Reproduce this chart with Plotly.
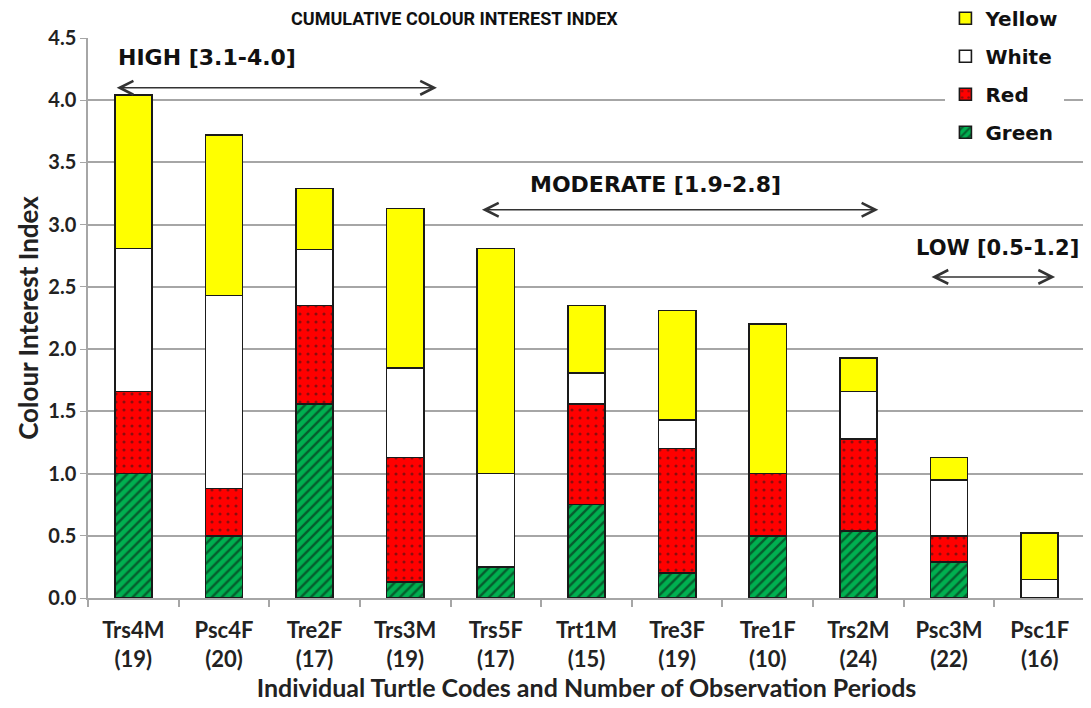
import plotly.graph_objects as go

codes = ["Trs4M", "Psc4F", "Tre2F", "Trs3M", "Trs5F", "Trt1M", "Tre3F", "Tre1F", "Trs2M", "Psc3M", "Psc1F"]
periods = [19, 20, 17, 19, 17, 15, 19, 10, 24, 22, 16]
green = [1.00, 0.50, 1.56, 0.13, 0.25, 0.75, 0.20, 0.50, 0.54, 0.29, 0.00]
red = [0.66, 0.38, 0.79, 1.00, 0.00, 0.81, 1.00, 0.50, 0.74, 0.21, 0.00]
white = [1.15, 1.55, 0.45, 0.72, 0.75, 0.25, 0.23, 0.00, 0.38, 0.45, 0.15]
yellow = [1.23, 1.29, 0.49, 1.28, 1.81, 0.54, 0.88, 1.20, 0.27, 0.18, 0.37]

tick_labels = [f"<b>{c}</b><br><b>({n})</b>" for c, n in zip(codes, periods)]
xpos = list(range(len(codes)))

fig = go.Figure()
line = dict(color="#1a1a1a", width=1.6)
fig.add_bar(x=xpos, y=green, name="<b>Green</b>", legendgroup="g", legendrank=4,
            marker=dict(color="#00B050", line=line,
                        pattern=dict(shape="/", fgcolor="#0a0a0a", bgcolor="#00B050", size=7, solidity=0.35)))
fig.add_bar(x=xpos, y=red, name="<b>Red</b>", legendgroup="r", legendrank=3,
            marker=dict(color="#FF0000", line=line,
                        pattern=dict(shape=".", fgcolor="#1a1a1a", bgcolor="#FF0000", size=8, solidity=0.12)))
fig.add_bar(x=xpos, y=white, name="<b>White</b>", legendgroup="w", legendrank=2,
            marker=dict(color="#FFFFFF", line=line))
fig.add_bar(x=xpos, y=yellow, name="<b>Yellow</b>", legendgroup="y", legendrank=1,
            marker=dict(color="#FFFF00", line=line))

fig.update_layout(
    barmode="stack",
    bargap=0.59,
    width=1083, height=700,
    margin=dict(l=80, r=6, t=30, b=110, autoexpand=False),
    paper_bgcolor="white", plot_bgcolor="white",
    font=dict(family="Lato", color="#1a1a1a"),
    showlegend=True,
    legend=dict(x=0.86, y=1.07, xanchor="left", yanchor="top",
                traceorder="grouped", tracegroupgap=9,
                bgcolor="white", font=dict(family="DejaVu Sans", size=20, color="#111"),
                itemwidth=30),
)

fig.update_xaxes(
    range=[-0.5, 10.5], tickvals=xpos, ticktext=tick_labels,
    ticks="", showgrid=False, showline=True, linecolor="#a6a6a6", linewidth=1.5,
    tickfont=dict(family="Lato", size=22, color="#222"), ticklabelstandoff=12,
    minor=dict(tickvals=[i - 0.5 for i in range(12)], ticks="outside", ticklen=7,
               tickcolor="#a6a6a6", tickwidth=1.5, showgrid=False),
    title=dict(text="<b>Individual Turtle Codes and Number of Observation Periods</b>",
               font=dict(family="Lato", size=25, color="#222"), standoff=4),
)
fig.update_yaxes(
    range=[0, 4.5], dtick=0.5, tickformat=".1f",
    showgrid=True, gridcolor="#a6a6a6", gridwidth=1.5,
    showline=True, linecolor="#a6a6a6", linewidth=1.5,
    ticks="outside", ticklen=6, tickcolor="#a6a6a6",
    tickfont=dict(family="Lato", size=20, color="#222"),
    tickprefix="<b>", ticksuffix="</b>",
    title=dict(text="<b>Colour Interest Index</b>",
               font=dict(family="Lato", size=26, color="#222"), standoff=2),
    zeroline=False,
)

fig.add_annotation(text="<b>CUMULATIVE COLOUR INTEREST INDEX</b>", xref="paper", yref="paper",
                   x=0.368, y=1.0, yanchor="bottom", yshift=7, showarrow=False,
                   font=dict(family="Roboto", size=18, color="#111"))

labels = [("<b>HIGH [3.1-4.0]</b>", -0.19, 4.34, -0.2, 3.35, 4.1, 22),
          ("<b>MODERATE [1.9-2.8]</b>", 4.355, 3.32, 3.83, 8.22, 3.12, 22),
          ("<b>LOW [0.5-1.2]</b>", 8.61, 2.81, 8.79, 10.17, 2.58, 21)]
for txt, tx, ty, x0, x1, ya, fs in labels:
    fig.add_annotation(text=txt, x=tx, y=ty, xref="x", yref="y", xanchor="left",
                       showarrow=False, font=dict(family="DejaVu Sans", size=fs, color="#111"))
    fig.add_annotation(text="", x=x1, y=ya, ax=x0, ay=ya, xref="x", yref="y",
                       axref="x", ayref="y", showarrow=True, arrowside="end+start",
                       arrowhead=5, startarrowhead=5, arrowsize=1.8, startarrowsize=1.8,
                       arrowwidth=1.5, arrowcolor="#333333")

fig.write_html("out.html")
